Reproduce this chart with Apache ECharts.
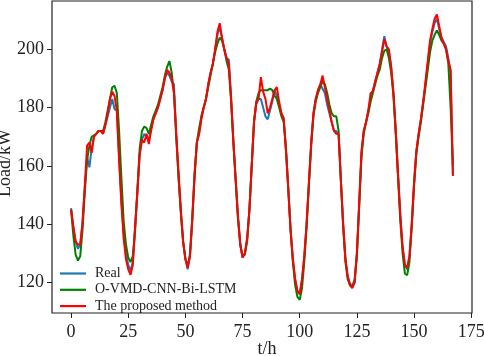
<!DOCTYPE html>
<html lang="en" style="height: 100%">
<head>
  <meta charset="utf-8">
</head>
<body style="height: 100%; margin: 0">
  <div id="container" style="width: 484px; height: 356px"></div>

  <script type="text/javascript" src="https://cdn.jsdelivr.net/npm/echarts@6.0.0/dist/echarts.min.js"></script>
  <script type="text/javascript">
// hourly load, t = 0..167
var realLoad = [
  145.5, 139, 134, 131.5, 133, 141, 153, 163, 159.5, 166,
  170, 171, 172, 172, 171, 174, 177, 180, 183, 179.5,
  179, 163, 148, 137, 130, 126, 124, 127, 139, 151,
  164, 169, 171, 170, 169, 173, 176, 178, 180, 183,
  186, 190, 192, 191, 189, 188, 170, 156, 144, 134,
  128, 124.5, 130, 142, 157, 168, 171, 177, 180, 183,
  188, 192, 195, 200, 205, 207.5, 204, 200, 197, 196.5,
  183, 168, 155, 143, 133, 128.5, 130, 135, 145, 160,
  175, 181, 183, 183, 180, 177, 176, 179, 182, 186,
  184, 181, 178, 176.5, 165, 152, 138, 128, 121, 117,
  116, 121, 129, 140, 154, 167, 178, 183, 186, 188,
  186.5, 185, 181, 178, 175, 172, 172, 170.5, 155, 140,
  128, 122, 119.5, 119, 121, 130, 147, 164, 172, 175,
  179, 183, 186, 189, 192, 195, 200, 204.5, 201, 199,
  194, 185, 172, 157, 143, 132, 126, 124.5, 129, 140,
  154, 165, 171, 176, 182, 188, 195, 202, 206, 209,
  210.5, 207, 204, 202.5, 201, 197, 192, 157
];
var vmdLoad = [
  145, 136, 129.5, 127.5, 129, 138, 151, 162, 167, 170,
  170.5, 171, 172, 172, 172, 175, 179, 183, 187, 187.5,
  185, 172, 156, 141, 133, 128.5, 127, 129, 138, 152,
  166, 172, 173.5, 173, 171, 174, 177, 179, 181, 184,
  187, 191, 194, 196, 192, 185, 170, 156, 144, 134,
  128, 126, 129, 141, 156, 168, 173, 177, 180, 183,
  187, 191, 195, 199, 202, 204, 203, 200, 196, 193,
  182, 168, 155, 142, 133, 129, 129.5, 134, 145, 160,
  175, 182, 185, 186, 186, 186, 186, 186.5, 186, 184,
  183, 180, 177, 175, 166, 152, 138, 127, 119, 115,
  114, 118, 127, 139, 153, 167, 177, 182, 185, 187,
  189, 188, 185, 181, 178, 177, 177, 172, 155, 139,
  127, 121, 119, 118.5, 120, 129, 146, 163, 171, 175,
  178, 182, 185, 188, 191, 193, 197, 199.5, 200, 197,
  192, 184, 171, 156, 141, 130, 123, 122.5, 127, 139,
  153, 164, 170, 175, 181, 187, 193, 199, 203, 205,
  206.5, 205, 203, 202, 200, 195, 180, 160
];
var proposedLoad = [
  145, 139, 134, 133, 133, 140, 153, 167, 168, 164.5,
  170, 171, 172, 172, 171, 174, 178, 183, 185.5, 184,
  179, 162, 147, 135, 128, 124.5, 122.6, 126, 139, 151,
  164, 169, 168, 171, 167.5, 172, 176, 178, 180, 183,
  186, 190, 193, 192, 190, 185, 171, 158, 145, 134,
  128, 125, 129, 142, 157, 168, 171, 176, 180, 183,
  188, 192, 195, 200, 206, 209, 204, 200, 197, 195,
  183, 168, 155, 142, 133, 128.5, 130, 135, 145, 160,
  175, 182, 183, 190.5, 185.5, 183, 178, 180, 183, 186,
  187, 182, 178, 176, 165, 152, 138, 128, 121, 117,
  116, 121, 129, 140, 154, 168, 178, 183, 186, 188,
  191, 187, 183, 179, 175, 172, 171, 171, 155, 140,
  128, 122, 119, 118, 120, 130, 147, 165, 172, 175,
  179, 185, 185.5, 189, 192, 195, 199, 203.5, 201, 200,
  194, 185, 172, 157, 143, 132, 126, 125, 129, 140,
  154, 165, 171, 176, 182, 189, 196, 203, 207, 210.5,
  212, 208, 204, 202, 200, 196, 193, 156.5
];
var xTicks = [0, 25, 50, 75, 100, 125, 150, 175];
var yTicks = [120, 140, 160, 180, 200];

function toPoints(arr) {
  return arr.map(function (v, i) { return [i, v]; });
}

var font = 'Liberation Serif, Times New Roman, serif';
var lineIcon = 'path://M0,0 L26,0 L26,2.2 L0,2.2 Z';
var dom = document.getElementById('container');
var myChart = echarts.init(dom, null, { renderer: 'canvas' });

var option = {
  animation: false,
  textStyle: { fontFamily: font },
  grid: {
    left: 52, right: 12, top: 1, bottom: 43,
    outerBoundsMode: 'none',
    containLabel: false,
    show: true, borderColor: '#222', borderWidth: 1.2
  },
  legend: {
    orient: 'vertical',
    left: 55,
    top: 261.5,
    itemWidth: 26,
    itemHeight: 14,
    itemGap: 2.3,
    icon: lineIcon,
    textStyle: { fontFamily: font, fontSize: 14, color: '#222', padding: [0, 0, 0, 4] },
    data: ['Real', 'O-VMD-CNN-Bi-LSTM', 'The proposed method']
  },
  xAxis: {
    type: 'value',
    min: -8.35,
    max: 175.35,
    name: 't/h',
    nameLocation: 'middle',
    nameGap: 27,
    nameMoveOverlap: false,
    nameTextStyle: { fontFamily: font, fontSize: 18, color: '#222', padding: [0, 0, 0, 10] },
    axisLine: { show: false, onZero: false },
    axisTick: { show: true, length: 5, customValues: xTicks, lineStyle: { color: '#222' } },
    axisLabel: { customValues: xTicks, fontFamily: font, fontSize: 18, color: '#222', margin: 10 },
    splitLine: { show: false }
  },
  yAxis: {
    type: 'value',
    min: 109.5,
    max: 216.6,
    name: 'Load/kW',
    nameLocation: 'middle',
    nameGap: 38,
    nameMoveOverlap: false,
    nameTextStyle: { fontFamily: font, fontSize: 18, color: '#222', padding: [0, 12, 0, 0] },
    axisLine: { show: false, onZero: false },
    axisTick: { show: true, length: 5, customValues: yTicks, lineStyle: { color: '#222' } },
    axisLabel: { customValues: yTicks, fontFamily: font, fontSize: 18, color: '#222', margin: 8 },
    splitLine: { show: false }
  },
  series: [
    {
      name: 'Real', type: 'line', symbol: 'none',
      lineStyle: { color: '#1f77b4', width: 2 }, itemStyle: { color: '#1f77b4' },
      data: toPoints(realLoad)
    },
    {
      name: 'O-VMD-CNN-Bi-LSTM', type: 'line', symbol: 'none',
      lineStyle: { color: '#008000', width: 2 }, itemStyle: { color: '#008000' },
      data: toPoints(vmdLoad)
    },
    {
      name: 'The proposed method', type: 'line', symbol: 'none',
      lineStyle: { color: '#ff0000', width: 2 }, itemStyle: { color: '#ff0000' },
      data: toPoints(proposedLoad)
    }
  ]
};

myChart.setOption(option);
window.addEventListener('resize', myChart.resize);
  </script>
</body>
</html>
